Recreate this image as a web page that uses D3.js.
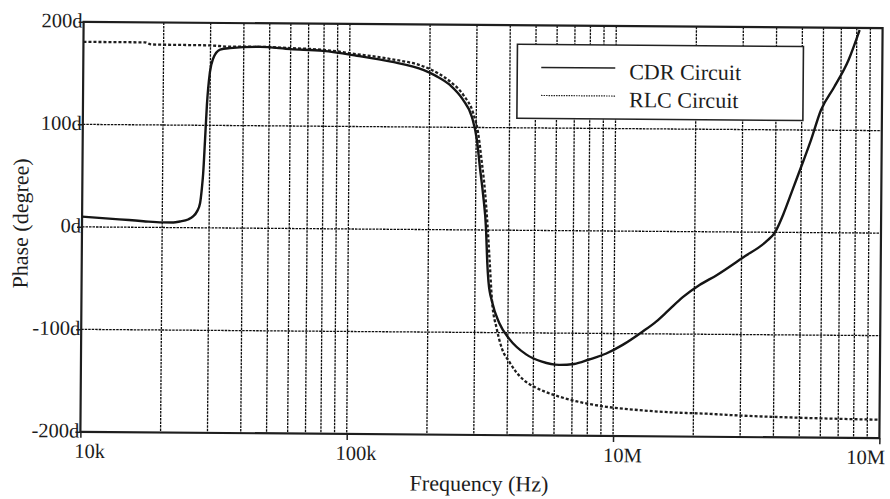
<!DOCTYPE html>
<html>
<head>
<meta charset="utf-8">
<script src="https://cdn.jsdelivr.net/npm/d3@7"></script>
<style>
  html, body { margin: 0; padding: 0; background: #fff; }
  svg { display: block; }
  text { font-family: "Liberation Serif", "Times New Roman", serif; fill: #1c1c1c; }
</style>
</head>
<body>
<svg id="chart" width="890" height="499"></svg>
<script>
// Phase response of the CDR circuit (measured) and the ideal RLC circuit
const cdrFreq = [1e4, 1.3e4, 1.5e4, 1.7e4, 2e4, 2.2e4, 2.33e4, 2.5e4, 2.61e4, 2.7e4, 2.77e4, 2.81e4, 2.84e4, 2.88e4, 2.92e4, 2.99e4, 3.07e4, 3.26e4, 3.55e4, 4.6e4, 6e4, 7.94e4,
  1.065e5, 1.43e5, 1.9e5, 2.11e5, 2.39e5, 2.67e5, 2.89e5, 3.02e5, 3.11e5, 3.2e5, 3.29e5, 3.33e5, 3.37e5, 3.49e5, 3.71e5, 4.05e5, 4.69e5, 5.38e5, 6.24e5, 7.1e5, 8.09e5, 9.38e5,
  1.08e6, 1.28e6, 1.44e6, 1.6e6, 1.81e6, 2.09e6, 2.43e6, 3.03e6, 3.73e6, 4.0e6, 4.29e6, 4.67e6, 5.09e6, 5.42e6, 5.9e6, 6.6e6, 7.46e6, 8.2e6];
const cdrPhase = [10, 8, 7, 6, 5, 5, 6, 8, 11, 16, 24, 38, 53, 86, 120, 152, 165, 174, 175.5, 177, 175, 173.5,
  169, 163.5, 155.5, 150, 141, 127, 110, 88, 60, 34, 0, -31, -50, -71, -90.5, -106, -121, -128, -131, -130, -125.5, -119.5,
  -111, -98, -88, -77, -64, -52, -42, -25, -8.5, 0, 17.5, 43.5, 70, 90, 119.5, 142, 168.5, 198];

const rlcFreq = [1e4, 1.7e4, 1.8e4, 3e4, 3.5e4, 4.6e4, 6e4, 8e4, 1.07e5, 1.43e5, 1.9e5, 2.15e5, 2.39e5, 2.68e5, 2.92e5, 3.05e5, 3.15e5, 3.25e5, 3.33e5, 3.4e5, 3.48e5,
  3.63e5, 3.81e5, 4.05e5, 4.3e5, 4.6e5, 5e5, 5.5e5, 6.27e5, 7.3e5, 9.42e5, 1.25e6, 1.67e6, 2.24e6, 2.98e6, 4.62e6, 7.13e6, 1e7];
const rlcPhase = [180.5, 180.5, 178.5, 178, 177, 177, 176, 174.5, 170.5, 166, 159, 152.5, 144.5, 131.5, 114, 95, 68, 38, 5, -30, -69,
  -96, -116, -128, -138, -146, -152, -157, -162, -166.5, -171.5, -174.5, -176.5, -177.5, -179, -180.5, -181.5, -182];

const xTickValues = [1e4, 1e5, 1e6, 1e7];
const xTickLabels = ["10k", "100k", "10M", "10M"];
const yTickValues = [200, 100, 0, -100, -200];
const yTickLabels = ["200d", "100d", "0d", "-100d", "-200d"];
const seriesNames = ["CDR Circuit", "RLC Circuit"];

const svg = d3.select("#chart");
svg.append("rect").attr("width", 890).attr("height", 499).attr("fill", "#fff");

const plot = { left: 82, right: 881, top: 25, bottom: 435 };
const x = d3.scaleLog().domain([1e4, 1e7]).range([plot.left, plot.right]);
const y = d3.scaleLinear().domain([-200, 200]).range([plot.bottom, plot.top]);

// the whole sheet sits slightly turned
const g = svg.append("g").attr("transform", "rotate(0.45,481,230)");

// grid
const gridX = [];
for (let e = 4; e < 7; e++) for (let k = 1; k <= 9; k++) gridX.push(k * Math.pow(10, e));
g.append("g").selectAll("line").data(gridX.slice(1)).join("line")
  .attr("x1", d => x(d)).attr("x2", d => x(d))
  .attr("y1", plot.top).attr("y2", plot.bottom)
  .attr("stroke", "#0d0d0d").attr("stroke-width", 1.3).attr("stroke-dasharray", "2.5,1");
g.append("g").selectAll("line").data([100, 0, -100]).join("line")
  .attr("x1", plot.left).attr("x2", plot.right)
  .attr("y1", d => y(d)).attr("y2", d => y(d))
  .attr("stroke", "#0d0d0d").attr("stroke-width", 1.3).attr("stroke-dasharray", "2.5,1");

// axes
const xAxis = g.append("g").attr("transform", `translate(0,${plot.bottom})`)
  .call(d3.axisBottom(x).tickValues(xTickValues).tickFormat((d, i) => xTickLabels[i]).tickSizeInner(6).tickSizeOuter(0));
xAxis.select(".domain").remove();
xAxis.selectAll(".tick line").attr("stroke", "#222").attr("stroke-width", 1.5);
xAxis.selectAll(".tick text")
  .attr("font-size", 20.5).attr("y", 26).attr("dy", 0)
  .attr("dx", (d, i) => i === xTickLabels.length - 1 ? -14 : 9)
  .attr("fill", "#1c1c1c");

const yAxis = g.append("g").attr("transform", `translate(${plot.left},0)`)
  .call(d3.axisLeft(y).tickValues(yTickValues).tickFormat((d, i) => yTickLabels[i]).tickSizeInner(5).tickSizeOuter(0));
yAxis.select(".domain").remove();
yAxis.selectAll(".tick line").attr("stroke", "#222").attr("stroke-width", 1.5);
yAxis.selectAll(".tick text")
  .attr("font-size", 20.5).attr("x", -1).attr("dy", "0.25em")
  .attr("fill", "#1c1c1c");

// frame
g.append("rect")
  .attr("x", plot.left).attr("y", plot.top)
  .attr("width", plot.right - plot.left).attr("height", plot.bottom - plot.top)
  .attr("fill", "none").attr("stroke", "#1e1e1e").attr("stroke-width", 2.2);

// curves
g.append("clipPath").attr("id", "plot-clip").append("rect")
  .attr("x", plot.left).attr("y", plot.top)
  .attr("width", plot.right - plot.left).attr("height", plot.bottom - plot.top);

const line = d3.line().x(d => x(d[0])).y(d => y(d[1])).curve(d3.curveMonotoneX);
const curves = g.append("g").attr("clip-path", "url(#plot-clip)");
curves.append("path")
  .datum(d3.zip(rlcFreq, rlcPhase))
  .attr("d", line).attr("fill", "none")
  .attr("stroke", "#1e1e1e").attr("stroke-width", 2.3).attr("stroke-dasharray", "3,2");
curves.append("path")
  .datum(d3.zip(cdrFreq, cdrPhase))
  .attr("d", line).attr("fill", "none")
  .attr("stroke", "#151515").attr("stroke-width", 2.4);

// legend
const lg = g.append("g").attr("transform", "translate(516,44)");
lg.append("rect").attr("width", 286).attr("height", 74)
  .attr("fill", "#fff").attr("stroke", "#222").attr("stroke-width", 1.6);
seriesNames.forEach((name, i) => {
  const yy = 23 + i * 28;
  lg.append("line").attr("x1", 24).attr("x2", 98).attr("y1", yy).attr("y2", yy)
    .attr("stroke", "#222").attr("stroke-width", i === 0 ? 1.4 : 1.2)
    .attr("stroke-dasharray", i === 0 ? null : "1.5,1");
  lg.append("text").attr("x", 112).attr("y", yy + 11)
    .attr("font-size", 22).text(name);
});

// axis titles
g.append("text").attr("x", 481).attr("y", 491).attr("text-anchor", "middle")
  .attr("font-size", 22).text("Frequency (Hz)");
g.append("text").attr("transform", "translate(28,227) rotate(-90)").attr("text-anchor", "middle")
  .attr("font-size", 22).text("Phase (degree)");
</script>
</body>
</html>
